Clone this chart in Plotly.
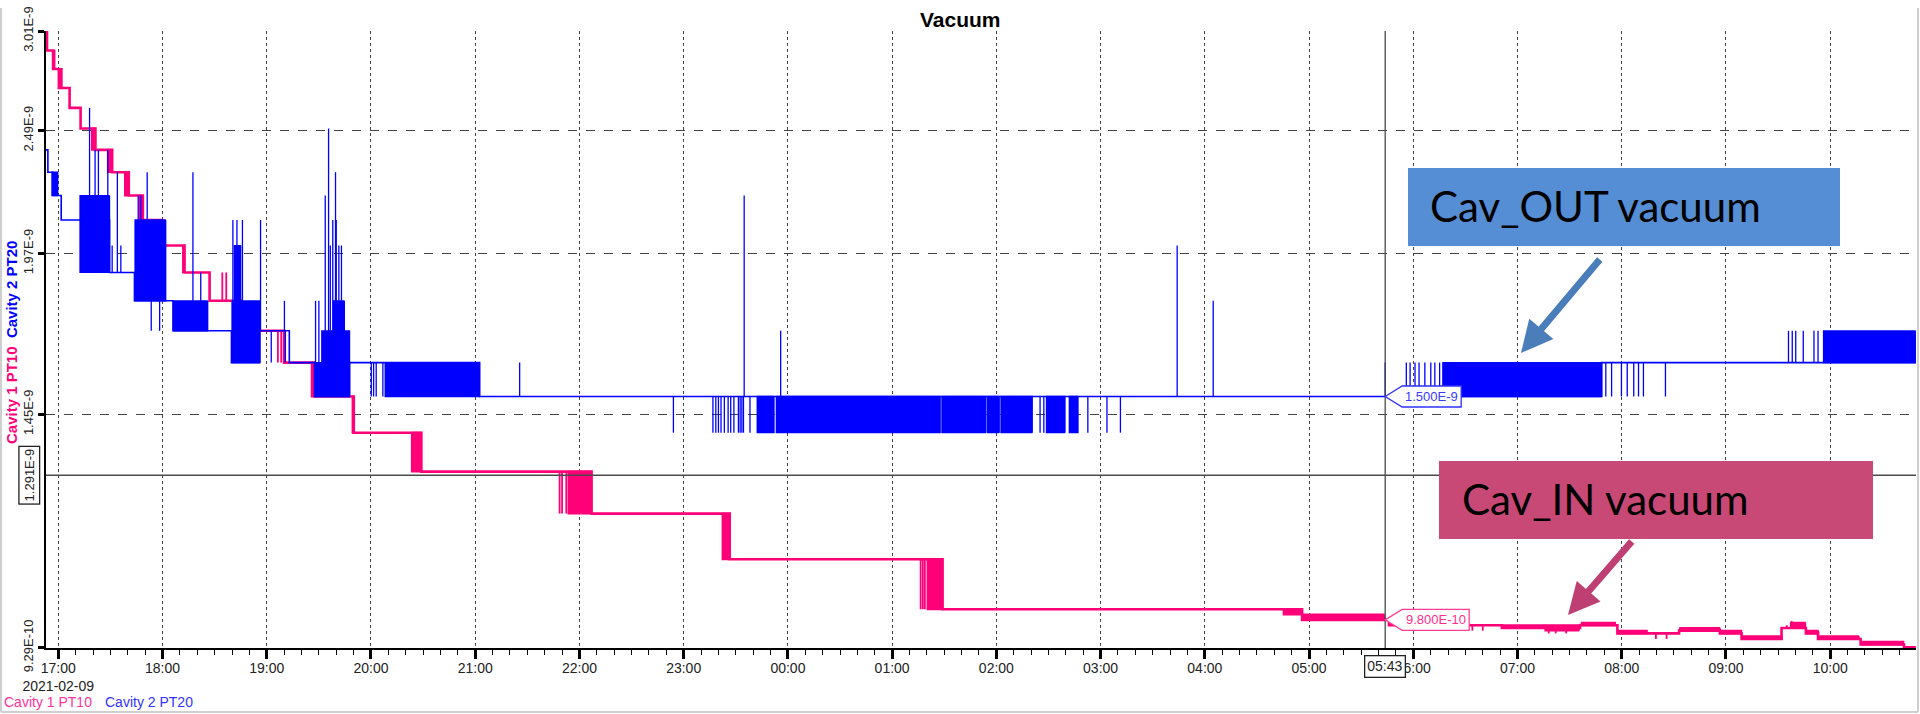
import math
import pandas as pd
import plotly.graph_objects as go

# ---------------- data (values in units of 1E-9) ----------------
SCALE = 1e-9

Y_TICK_VALUES = [0.929, 1.45, 1.97, 2.49, 3.01]
Y_TICK_LABELS = ["9.29E-10", "1.45E-9", "1.97E-9", "2.49E-9", "3.01E-9"]

X_TICK_TIMES = ["17:00", "18:00", "19:00", "20:00", "21:00", "22:00", "23:00", "00:00", "01:00",
                "02:00", "03:00", "04:00", "05:00", "06:00", "07:00", "08:00", "09:00", "10:00"]
X_TICK_LABELS = ["17:00<br>2021-02-09", "18:00", "19:00", "20:00", "21:00", "22:00", "23:00", "00:00", "01:00",
                 "02:00", "03:00", "04:00", "05:00", "06:00", "07:00", "08:00", "09:00", "10:00"]

# Cavity 1 PT10 (pink): step levels
PINK_STEPS = [
    ("16:52:55", 3.01), ("16:53:30", 2.90), ("16:57:00", 2.80), ("17:00:20", 2.70), ("17:06:30", 2.60),
    ("17:12:50", 2.50), ("17:21:20", 2.40), ("17:31:00", 2.30), ("17:40:35", 2.20), ("17:48:40", 2.10),
    ("17:59:50", 2.00), ("18:12:40", 1.90), ("18:27:05", 1.80), ("18:45:00", 1.70), ("19:10:00", 1.60),
    ("19:27:30", 1.50), ("19:50:00", 1.40), ("20:29:00", 1.30), ("22:07:00", 1.20), ("23:26:30", 1.10),
    ("01:29:00", 1.00), ("04:56:00", 0.98), ("05:46:00", 0.97), ("06:51:00", 0.965), ("07:36:00", 0.97),
    ("07:57:30", 0.955), ("08:33:00", 0.96), ("08:56:30", 0.955), ("09:09:00", 0.945), ("09:32:00", 0.965),
    ("09:46:00", 0.955), ("09:53:00", 0.945), ("10:17:30", 0.935), ("10:42:30", 0.93), ("10:49:20", 0.93),
]
# periods where the reading toggles quickly between two levels: (start, end, low, high)
PINK_BANDS = [
    ("16:56:50", "16:58:00", 2.80, 2.90), ("17:00:20", "17:02:00", 2.70, 2.80),
    ("17:19:00", "17:21:20", 2.40, 2.50), ("17:28:10", "17:31:00", 2.30, 2.40),
    ("17:38:00", "17:40:35", 2.20, 2.30), ("17:46:25", "17:48:40", 2.10, 2.20),
    ("17:58:00", "17:59:50", 2.00, 2.10), ("18:11:25", "18:12:40", 1.90, 2.00),
    ("19:25:30", "19:27:30", 1.50, 1.60), ("19:49:00", "19:50:30", 1.40, 1.50),
    ("20:23:10", "20:29:00", 1.30, 1.40), ("21:53:20", "22:06:50", 1.20, 1.30),
    ("23:22:00", "23:26:30", 1.10, 1.20), ("01:20:00", "01:29:00", 1.00, 1.10),
    ("04:45:00", "04:56:00", 0.99, 1.00), ("04:56:00", "05:43:20", 0.98, 0.99),
    ("06:51:00", "07:15:40", 0.965, 0.97), ("07:15:40", "07:35:20", 0.96, 0.97),
    ("07:36:30", "07:56:20", 0.97, 0.975), ("07:57:30", "08:14:40", 0.955, 0.96),
    ("08:33:10", "08:56:30", 0.96, 0.965), ("08:56:30", "09:08:50", 0.955, 0.96),
    ("09:08:50", "09:32:10", 0.945, 0.95), ("09:37:00", "09:45:50", 0.965, 0.975),
    ("09:45:50", "09:53:10", 0.955, 0.96), ("09:53:10", "10:16:30", 0.945, 0.95),
    ("10:17:50", "10:42:20", 0.935, 0.94),
]
# single short excursions: (time, value)
PINK_SPIKES = [
    ("18:34:25", 1.90), ("18:36:40", 1.90), ("19:06:25", 1.60), ("19:08:20", 1.60),
    ("21:48:35", 1.20), ("21:50:00", 1.20), ("21:52:25", 1.20),
    ("01:16:25", 1.00), ("01:17:40", 1.00), ("01:18:50", 1.00),
    ("06:34:00", 0.96), ("06:40:00", 0.96), ("07:18:00", 0.955), ("07:22:00", 0.955), ("07:28:00", 0.955),
    ("08:19:40", 0.945), ("08:25:50", 0.945), ("09:35:00", 0.97), ("09:37:50", 0.978),
]

# Cavity 2 PT20 (blue)
BLUE_STEPS = [
    ("16:52:55", 2.40), ("16:54:00", 2.30), ("16:57:00", 2.20), ("17:01:40", 2.10), ("17:29:30", 1.90),
    ("17:43:50", 1.80), ("18:06:00", 1.70), ("18:39:40", 1.60), ("18:56:00", 1.70), ("19:13:00", 1.60),
    ("19:27:30", 1.50), ("19:47:40", 1.60), ("21:02:30", 1.50), ("07:48:30", 1.60), ("10:49:20", 1.60),
]
BLUE_BANDS = [
    ("16:56:00", "16:59:40", 2.20, 2.30), ("17:12:10", "17:29:30", 1.90, 2.20),
    ("17:43:50", "18:02:00", 1.80, 2.10), ("18:06:00", "18:26:00", 1.70, 1.80),
    ("18:39:40", "18:56:00", 1.60, 1.80), ("18:41:00", "18:45:00", 1.80, 2.00),
    ("19:28:00", "19:47:40", 1.50, 1.60), ("19:31:20", "19:47:40", 1.60, 1.70),
    ("19:38:00", "19:44:50", 1.70, 1.80), ("20:07:50", "21:02:30", 1.50, 1.60),
    ("23:42:00", "23:52:00", 1.40, 1.50), ("23:53:00", "01:27:40", 1.40, 1.50),
    ("01:28:20", "01:54:00", 1.40, 1.50), ("01:54:40", "02:01:40", 1.40, 1.50),
    ("02:02:20", "02:20:50", 1.40, 1.50), ("02:28:30", "02:39:30", 1.40, 1.50),
    ("02:41:40", "02:47:10", 1.40, 1.50), ("06:16:40", "07:48:30", 1.50, 1.60),
    ("09:55:50", "10:49:20", 1.60, 1.70),
]
BLUE_SPIKES = [
    ("17:18:00", 2.60), ("17:21:10", 2.40), ("17:23:05", 2.40), ("17:28:30", 2.40),
    ("17:31:00", 2.00), ("17:34:00", 2.30), ("17:36:00", 2.00),
    ("17:46:00", 2.20), ("17:47:30", 2.20), ("17:51:10", 2.30), ("17:53:30", 1.70), ("17:58:20", 1.70),
    ("18:17:30", 2.30), ("18:22:00", 1.90),
    ("18:40:30", 2.10), ("18:42:50", 2.10), ("18:46:00", 2.10), ("18:56:25", 2.10),
    ("19:02:35", 1.60), ("19:10:10", 1.80), ("19:10:40", 1.60),
    ("19:28:05", 1.80), ("19:30:00", 1.80), ("19:33:40", 2.20), ("19:35:35", 2.50), ("19:36:35", 2.00),
    ("19:38:00", 2.10), ("19:39:35", 2.30), ("19:40:00", 2.10), ("19:41:30", 2.00), ("19:43:00", 2.00),
    ("20:00:10", 1.50), ("20:01:30", 1.50), ("20:03:00", 1.50), ("20:06:50", 1.50),
    ("21:25:35", 1.60), ("22:54:05", 1.40),
    ("23:16:50", 1.40), ("23:18:30", 1.40), ("23:20:00", 1.40), ("23:21:30", 1.40), ("23:23:25", 1.40),
    ("23:25:35", 1.40), ("23:27:05", 1.40), ("23:28:55", 1.40), ("23:31:30", 1.40), ("23:32:30", 1.40),
    ("23:33:30", 1.40), ("23:34:25", 1.40), ("23:34:50", 2.20), ("23:38:10", 1.40),
    ("23:55:50", 1.70),
    ("02:25:10", 1.40), ("02:27:20", 1.40), ("02:52:40", 1.40), ("03:03:40", 1.40), ("03:11:25", 1.40),
    ("03:44:05", 2.00), ("04:04:50", 1.80), ("05:43:50", 1.60),
    ("05:56:00", 1.60), ("05:58:10", 1.60), ("06:01:00", 1.60), ("06:03:20", 1.60), ("06:06:40", 1.60),
    ("06:10:05", 1.60), ("06:12:25", 1.60), ("06:15:10", 1.60),
    ("07:50:50", 1.50), ("07:54:10", 1.50), ("07:59:50", 1.50), ("08:03:10", 1.50), ("08:06:55", 1.50),
    ("08:09:40", 1.50), ("08:12:30", 1.50), ("08:25:10", 1.50),
    ("09:36:00", 1.70), ("09:38:10", 1.70), ("09:40:10", 1.70), ("09:44:30", 1.70), ("09:50:40", 1.70),
    ("09:53:00", 1.70),
]

CURSOR_TIME = "05:43:50"
CURSOR_LEVEL = 1.291
CURSOR_BLUE = 1.500
CURSOR_PINK = 0.980
X_START, X_END = "16:52:55", "10:49:24"
Y_MIN, Y_MAX = 0.9288, 3.0102

# ---------------- helpers ----------------
W, H = 1920, 714
L, R, TOP, BOT = 46, 4, 31, 66
PW, PH = W - L - R, H - TOP - BOT

PINK = "#ff0078"
BLUE = "#0000ff"
FONT = "Liberation Sans, Arial, sans-serif"


def px(x):
    return (x - L) / PW


def py(y):
    return (H - BOT - y) / PH


def T(s):
    day = "2021-02-09" if int(s[:2]) >= 12 else "2021-02-10"
    if len(s) == 5:
        s += ":00"
    return pd.Timestamp(day + " " + s)


def level_at(steps, t):
    v = steps[0][1]
    for s, val in steps:
        if T(s) <= t:
            v = val
        else:
            break
    return v


def steps_xy(steps):
    return [T(s) for s, _ in steps], [v * SCALE for _, v in steps]


STEP_S = 20


def bands_xy(bands):
    xs, ys = [], []
    for t0, t1, lo, hi in bands:
        a, b = T(t0), T(t1)
        n = int((b - a).total_seconds() // STEP_S)
        for i in range(n + 1):
            xs.append(a + pd.Timedelta(seconds=i * STEP_S))
            ys.append((hi if i % 2 == 0 else lo) * SCALE)
        xs.append(None)
        ys.append(None)
    return xs, ys


def spikes_xy(spikes, steps):
    xs, ys = [], []
    for s, v in spikes:
        t = T(s)
        b = level_at(steps, t)
        xs += [t, t, None]
        ys += [b * SCALE, v * SCALE, None]
    return xs, ys


fig = go.Figure()


def add_series(steps, bands, spikes, color, w_step, w_band):
    x, y = steps_xy(steps)
    fig.add_trace(go.Scatter(x=x, y=y, mode="lines", line=dict(color=color, width=w_step, shape="hv"),
                             hoverinfo="skip", showlegend=False))
    x, y = bands_xy(bands)
    fig.add_trace(go.Scatter(x=x, y=y, mode="lines", line=dict(color=color, width=w_band, shape="hv"),
                             hoverinfo="skip", showlegend=False, connectgaps=False))
    x, y = spikes_xy(spikes, steps)
    fig.add_trace(go.Scatter(x=x, y=y, mode="lines", line=dict(color=color, width=w_band),
                             hoverinfo="skip", showlegend=False, connectgaps=False))


add_series(PINK_STEPS, PINK_BANDS, PINK_SPIKES, PINK, 2.6, 1.8)
add_series(BLUE_STEPS, BLUE_BANDS, BLUE_SPIKES, BLUE, 1.6, 1.3)

shapes = []
annotations = []

# cursor lines
shapes.append(dict(type="line", xref="x", yref="paper", x0=T(CURSOR_TIME), x1=T(CURSOR_TIME), y0=0, y1=1,
                   line=dict(color="#4a4a4a", width=1.3), layer="above"))
shapes.append(dict(type="line", xref="paper", yref="y", x0=0, x1=1, y0=CURSOR_LEVEL * SCALE,
                   y1=CURSOR_LEVEL * SCALE, line=dict(color="#4a4a4a", width=1.6), layer="above"))

# value callouts at cursor
for val, color, tcolor, wbox, label in [(CURSOR_BLUE, "#3030ff", "#3a3aff", 76, "1.500E-9"),
                                        (CURSOR_PINK, "#ff3d96", "#ff2d8c", 84, "9.800E-10")]:
    shapes.append(dict(type="path", xref="x", yref="y", xsizemode="pixel", ysizemode="pixel",
                       xanchor=T(CURSOR_TIME), yanchor=val * SCALE,
                       path=f"M 0 0 L 17 10.5 L {wbox} 10.5 L {wbox} -10.5 L 17 -10.5 Z",
                       fillcolor="white", line=dict(color=color, width=1.3), layer="above"))
    annotations.append(dict(x=T(CURSOR_TIME), y=math.log10(val * SCALE), xref="x", yref="y",
                            xanchor="center", yanchor="middle",
                            xshift=(17 + wbox) / 2, text=label, showarrow=False,
                            font=dict(family=FONT, size=13, color=tcolor)))

# cursor axis labels
annotations.append(dict(x=px(29.5), y=math.log10(CURSOR_LEVEL * SCALE), xref="paper", yref="y",
                        xanchor="center", yanchor="middle",
                        text="1.291E-9", textangle=-90, showarrow=False, bgcolor="white",
                        bordercolor="#222", borderwidth=1.3, borderpad=2,
                        font=dict(family=FONT, size=13, color="#222")))
annotations.append(dict(x=T(CURSOR_TIME), y=py(666.5), xref="x", yref="paper",
                        xanchor="center", yanchor="middle",
                        text="05:43", showarrow=False, bgcolor="white",
                        bordercolor="#222", borderwidth=1.3, borderpad=2,
                        font=dict(family=FONT, size=14, color="#222")))

# title
annotations.append(dict(x=px(960), y=py(19.5), xref="paper", yref="paper", text="<b>Vacuum</b>",
                        xanchor="center", yanchor="middle",
                        showarrow=False, font=dict(family=FONT, size=21, color="black")))
# y-axis title
annotations.append(dict(x=px(12), y=py(343), xref="paper", yref="paper", textangle=-90, showarrow=False,
                        xanchor="center", yanchor="middle",
                        text=f"<b><span style='color:{PINK}'>Cavity 1 PT10</span>  "
                             f"<span style='color:{BLUE}'>Cavity 2 PT20</span></b>",
                        font=dict(family=FONT, size=15)))
# legend text
annotations.append(dict(x=px(2), y=py(702), xref="paper", yref="paper", xanchor="left", yanchor="middle",
                        showarrow=False, text="Cavity 1 PT10", font=dict(family=FONT, size=14, color="#ff3399")))
annotations.append(dict(x=px(103), y=py(702), xref="paper", yref="paper", xanchor="left", yanchor="middle",
                        showarrow=False, text="Cavity 2 PT20", font=dict(family=FONT, size=14, color="#3333ff")))

# callout boxes
for (x0, y0, x1, y1, fill, text, tx, arrow_color, tail, head) in [
    (1408, 168, 1840, 246, "#558ed5", "Cav_OUT vacuum", 1428, "#4a7ebb", (1601, 258), (1521, 353)),
    (1439, 461, 1873, 539, "#c84876", "Cav_IN vacuum", 1460, "#be3f72", (1633, 540), (1568, 615)),
]:
    shapes.append(dict(type="rect", xref="paper", yref="paper", x0=px(x0), x1=px(x1), y0=py(y1), y1=py(y0),
                       fillcolor=fill, line=dict(width=0), layer="above"))
    annotations.append(dict(x=px(tx), y=py((y0 + y1) / 2 - 1), xref="paper", yref="paper",
                            xanchor="left", yanchor="middle",
                            text=text, showarrow=False, font=dict(family="Lato, Open Sans, sans-serif",
                                                                  size=42, color="black")))
    annotations.append(dict(x=px(head[0]), y=py(head[1]), xref="paper", yref="paper", text="",
                            showarrow=True, arrowhead=2, arrowsize=0.9, arrowwidth=7, arrowcolor=arrow_color,
                            ax=tail[0] - head[0], ay=tail[1] - head[1], standoff=0, startstandoff=0))

# window frame
for (xa, ya, xb, yb) in [(1, 8, 1, 712), (1, 712, 1918, 712), (1918, 8, 1918, 712)]:
    shapes.append(dict(type="line", xref="paper", yref="paper", x0=px(xa), y0=py(ya), x1=px(xb), y1=py(yb),
                       line=dict(color="#cfcfcf", width=2)))

fig.update_layout(
    width=W, height=H, autosize=False,
    margin=dict(l=L, r=R, t=TOP, b=BOT, pad=0, autoexpand=False),
    paper_bgcolor="white", plot_bgcolor="white",
    showlegend=False,
    shapes=shapes, annotations=annotations,
    xaxis=dict(
        type="date", range=[T(X_START), T(X_END)], automargin=False,
        tickmode="array", tickvals=[T(t) for t in X_TICK_TIMES], ticktext=X_TICK_LABELS,
        tickfont=dict(family=FONT, size=14, color="#222"), ticklabelstandoff=-3,
        showline=True, linecolor="black", linewidth=2,
        ticks="outside", ticklen=9, tickwidth=2.5, tickcolor="black",
        showgrid=True, gridcolor="#444", griddash="dot", gridwidth=1,
        minor=dict(ticks="outside", ticklen=5, tickwidth=1, tickcolor="black", dtick=600000,
                   tickmode="linear", showgrid=False),
        zeroline=False, fixedrange=True,
    ),
    yaxis=dict(
        type="log", range=[math.log10(Y_MIN * SCALE), math.log10(Y_MAX * SCALE)], automargin=False,
        tickmode="array", tickvals=[v * SCALE for v in Y_TICK_VALUES], ticktext=Y_TICK_LABELS,
        tickangle=-90, tickfont=dict(family=FONT, size=13, color="#222"),
        showline=True, linecolor="black", linewidth=2,
        ticks="outside", ticklen=6, tickwidth=3, tickcolor="black",
        showgrid=True, gridcolor="#444", griddash="dash", gridwidth=1,
        zeroline=False, fixedrange=True,
    ),
)

fig.write_html("out.html", config={"displayModeBar": False},
               post_script="document.body.style.margin='0px';document.body.style.overflow='hidden';")
